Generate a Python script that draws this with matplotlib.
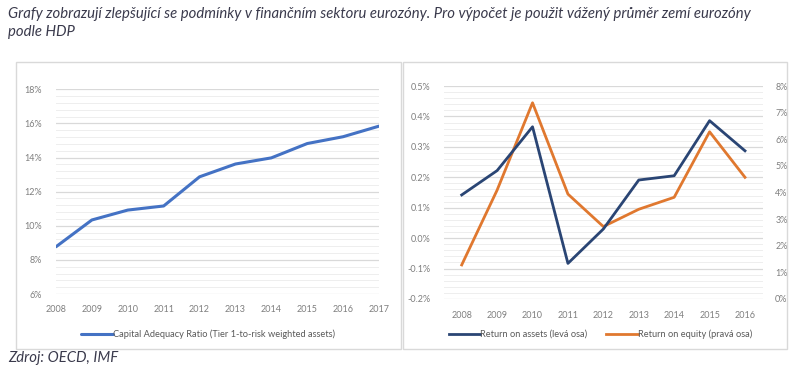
import matplotlib
matplotlib.use("Agg")
import matplotlib.pyplot as plt
from matplotlib.patches import Rectangle
from matplotlib.ticker import MultipleLocator, FuncFormatter

# ---- data ----
years_car = [2008, 2009, 2010, 2011, 2012, 2013, 2014, 2015, 2016, 2017]
car = [8.77, 10.34, 10.92, 11.16, 12.87, 13.62, 13.98, 14.82, 15.22, 15.84]

years_ret = ["2008", "2009", "2010", "2011", "2012", "2013", "2014", "2015", "2016"]
roa = [0.142, 0.222, 0.366, -0.083, 0.030, 0.191, 0.205, 0.386, 0.287]
roe = [1.28, 4.09, 7.37, 3.94, 2.72, 3.37, 3.82, 6.28, 4.57]

title_text = ("Grafy zobrazují zlepšující se podmínky v finančním sektoru eurozóny. "
              "Pro výpočet je použit vážený průměr zemí eurozóny\npodle HDP")
source_text = "Zdroj: OECD, IMF"
label_car = "Capital Adequacy Ratio (Tier 1-to-risk weighted assets)"
label_roa = "Return on assets (levá osa)"
label_roe = "Return on equity (pravá osa)"

W, H = 800, 378
fig = plt.figure(figsize=(W / 100, H / 100), dpi=100)
fig.patch.set_facecolor("white")

FONT = "Lato"
TICK_C = "#7F7F7F"
TICK_FS = 6.5
LEG_FS = 6.7
MAJ_C = "#D9D9D9"
MIN_C = "#EEEEEE"
C_CAR = "#4472C4"
C_ROA = "#2A4574"
C_ROE = "#E0782F"


def fx(px):
    return px / W


def fy(py):
    return 1 - py / H


# panel boxes
for x0, x1 in [(16, 401), (403, 787)]:
    fig.add_artist(Rectangle((fx(x0), fy(349)), fx(x1) - fx(x0), fy(62) - fy(349),
                             transform=fig.transFigure, fill=False,
                             edgecolor="#D9D9D9", lw=1.0))

# titles
fig.text(fx(8), fy(23), title_text, fontsize=10.7, style="italic", family=FONT,
         color="#3A3A4C", ha="left", va="center", linespacing=1.35)
fig.text(fx(8), fy(358), source_text, fontsize=10.7, style="italic", family=FONT,
         color="#3A3A4C", ha="left", va="center")


def style_axes(ax):
    for s in ax.spines.values():
        s.set_visible(False)
    ax.tick_params(axis="both", which="both", length=0, labelsize=TICK_FS,
                   labelcolor=TICK_C)
    for lab in ax.get_xticklabels() + ax.get_yticklabels():
        lab.set_family(FONT)


# ---- left chart ----
axL = fig.add_axes([fx(56), fy(294), fx(379) - fx(56), fy(89.3) - fy(294)])
axL.set_xlim(2008, 2017)
axL.set_ylim(6, 18)
axL.yaxis.set_major_locator(MultipleLocator(2))
axL.yaxis.set_minor_locator(MultipleLocator(0.4))
axL.set_xticks(years_car)
axL.set_xticklabels([str(y) for y in years_car])
axL.yaxis.set_major_formatter(FuncFormatter(lambda v, p: f"{v:.0f}%"))
axL.grid(axis="y", which="major", color=MAJ_C, lw=0.9)
axL.grid(axis="y", which="minor", color=MIN_C, lw=0.7)
axL.set_axisbelow(True)
axL.plot(years_car, car, color=C_CAR, lw=2.2, solid_capstyle="round",
         label=label_car)
style_axes(axL)
axL.tick_params(axis="y", pad=10)
axL.tick_params(axis="x", pad=8)
legL = axL.legend(loc="center", bbox_to_anchor=(0.47, (fy(334) - fy(294)) / (fy(89.3) - fy(294))),
                  frameon=False, handlelength=3.4, handletextpad=0.0,
                  prop={"family": FONT, "size": LEG_FS})
for t in legL.get_texts():
    t.set_color("#595959")

# ---- right chart ----
axR = fig.add_axes([fx(444), fy(299), fx(762.7) - fx(444), fy(86) - fy(299)])
xr = list(range(len(years_ret)))
axR.set_xlim(-0.5, len(years_ret) - 0.5)
axR.set_ylim(-0.2, 0.5)
axR.yaxis.set_major_locator(MultipleLocator(0.1))
axR.yaxis.set_minor_locator(MultipleLocator(0.02))
axR.yaxis.set_major_formatter(FuncFormatter(lambda v, p: f"{v:.1f}%"))
axR.set_xticks(xr)
axR.set_xticklabels(years_ret)
axR.grid(axis="y", which="major", color=MAJ_C, lw=0.9)
axR.grid(axis="y", which="minor", color=MIN_C, lw=0.7)
axR.set_axisbelow(True)

axR2 = axR.twinx()
axR2.set_ylim(0, 8)
axR2.yaxis.set_major_locator(MultipleLocator(1))
axR2.yaxis.set_major_formatter(FuncFormatter(lambda v, p: f"{v:.0f}%"))

# both lines drawn in the top (twin) axes so the grid stays underneath
l2, = axR2.plot(xr, roe, color=C_ROE, lw=2.0, label=label_roe)
l1, = axR2.plot(xr, roa, color=C_ROA, lw=2.0, label=label_roa,
                transform=axR.transData)

style_axes(axR)
style_axes(axR2)
axR.tick_params(axis="y", pad=10)
axR.tick_params(axis="x", pad=9)
axR2.tick_params(axis="y", pad=9)

legR = axR2.legend([l1, l2], [label_roa, label_roe], loc="center",
                   bbox_to_anchor=(0.49, (fy(334) - fy(299)) / (fy(86) - fy(299))),
                   frameon=False, ncol=2, handlelength=3.4, handletextpad=0.0,
                   columnspacing=2.0, prop={"family": FONT, "size": LEG_FS})
for t in legR.get_texts():
    t.set_color("#595959")

fig.savefig("out.png", dpi=100, facecolor="white")
